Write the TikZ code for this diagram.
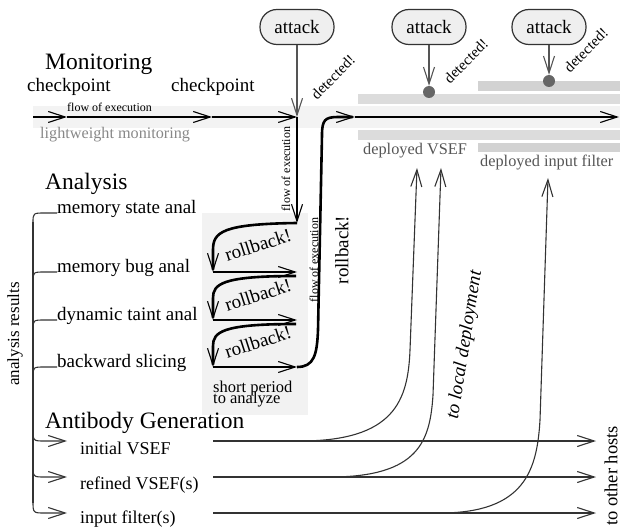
\documentclass[tikz,border=0pt]{standalone}
\usepackage{fontspec}
\setmainfont{Liberation Serif}
\usetikzlibrary{arrows.meta}
\definecolor{bandlight}{HTML}{F3F3F3}
\definecolor{bandA}{HTML}{DCDCDC}
\definecolor{bandB}{HTML}{D2D2D2}
\definecolor{boxbg}{HTML}{F2F2F2}
\definecolor{pillbg}{HTML}{EFEFEF}
\definecolor{dk}{HTML}{333333}
\definecolor{gr}{HTML}{555555}
\definecolor{lg}{HTML}{888888}
\definecolor{dotc}{HTML}{666666}
\newcommand\fsHead{\fontsize{23.5}{26}\selectfont}
\newcommand\fsMain{\fontsize{19}{22}\selectfont}
\newcommand\fsOut{\fontsize{18}{21}\selectfont}
\newcommand\fsDep{\fontsize{16.3}{19}\selectfont}
\newcommand\fsSmall{\fontsize{12}{14}\selectfont}
\newcommand\fsDet{\fontsize{15}{17}\selectfont}
\begin{document}
\begin{tikzpicture}[x=1pt,y=-1pt,
  tip/.style={-{Straight Barb[length=17pt,width=11pt,line width=1.1pt]}},
  flow/.style={line width=2.6pt,tip},
  thinline/.style={draw=dk,line width=1.1pt},
  thinarrow/.style={thinline,tip},
  attackarrow/.style={draw=gr,line width=1.5pt,tip},
  pill/.style={draw=dk,line width=1.2pt,fill=pillbg,rounded corners=17pt,minimum width=74pt,minimum height=35pt,inner sep=0pt,font=\fsMain},
  dot/.style={circle,fill=dotc,inner sep=0pt,minimum size=12pt},
  txt/.style={inner sep=0pt,font=\fsMain},
  head/.style={inner sep=0pt,font=\fsHead},
  small/.style={inner sep=0pt,font=\fsSmall},
  det/.style={inner sep=0pt,font=\fsDet,rotate=45},
]
\useasboundingbox (0,0) rectangle (620,529);
% background bands
\fill[bandlight] (33,106) rectangle (620,128);
\fill[bandA] (358,94) rectangle (620,104);
\fill[bandB] (478,81) rectangle (620,91);
\fill[bandA] (358,130) rectangle (620,140);
\fill[bandB] (478,143) rectangle (620,152);
\fill[boxbg] (202,213) rectangle (308,415);

% attacks
\node[pill] (att1) at (297,27) {attack};
\node[pill] (att2) at (429,27) {attack};
\node[pill] (att3) at (549,27) {attack};
\node[dot] (dot2) at (429,92) {};
\node[dot] (dot3) at (549,81) {};

% flow coordinates
\coordinate (f0) at (33,117);
\coordinate (cp1) at (67,117);
\coordinate (cp2) at (212,117);
\coordinate (j) at (297,117);
\coordinate (r0) at (297,223);
\coordinate (l1) at (213,272); \coordinate (h1) at (297,272);
\coordinate (s2) at (296,276); \coordinate (l2) at (213,320); \coordinate (h2) at (297,320);
\coordinate (s3) at (296,324); \coordinate (l3) at (213,367); \coordinate (h3) at (297,367);
\coordinate (re) at (355,117); \coordinate (fend) at (619,117);

\draw[attackarrow] (att1) -- (j);
\draw[attackarrow] (att2) -- (dot2);
\draw[attackarrow] (att3) -- (dot3);

\node[det] at (333,77) {detected!};
\node[det] at (466,61) {detected!};
\node[det] at (586,50) {detected!};

\draw[flow] (f0) -- (cp1);
\draw[flow] (cp1) -- (cp2);
\draw[flow] (cp2) -- (j);
\draw[flow] (j) -- (r0);
\draw[flow] (r0) .. controls (222,224) and (213,232) .. (213,250) -- (l1);
\draw[flow] (l1) -- (h1);
\draw[flow] (s2) .. controls (222,276) and (213,284) .. (213,298) -- (l2);
\draw[flow] (l2) -- (h2);
\draw[flow] (s3) .. controls (222,324) and (213,332) .. (213,346) -- (l3);
\draw[flow] (l3) -- (h3);
\draw[flow] (h3) .. controls (314,367) and (317,355) .. (318,330) -- (322,135) .. controls (322,120) and (325,117) .. (338,117) -- (re);
\draw[flow] (re) -- (fend);

% monitoring texts
\node[head,anchor=base west] (mon) at (45,70) {Monitoring};
\node[txt,anchor=base west] (ck1) at (27,92) {checkpoint};
\node[txt,anchor=base west] (ck2) at (171,92) {checkpoint};
\node[small,anchor=base west] (foe1) at (67,112) {flow of execution};
\node[inner sep=0pt,font=\fontsize{16.2}{18}\selectfont,text=lg,anchor=base west] (lw) at (40,139) {lightweight monitoring};
\node[small,rotate=90] (foe2) at (286,169) {flow of execution};
\node[small,rotate=90] (foe3) at (314,260) {flow of execution};
\node[txt,rotate=18] (rb1) at (258,245) {rollback!};
\node[txt,rotate=18] (rb2) at (258,295) {rollback!};
\node[txt,rotate=18] (rb3) at (258,342) {rollback!};
\node[txt,rotate=90] (rbig) at (342,250) {rollback!};
\node[inner sep=0pt,font=\fontsize{16.5}{11}\selectfont,anchor=base west] (sp1) at (213,392) {short period};
\node[inner sep=0pt,font=\fontsize{16.5}{11}\selectfont,anchor=base west] (sp2) at (213,403) {to analyze};

\node[inner sep=0pt,font=\fsDep,text=gr,anchor=base west] (dv) at (363,155) {deployed VSEF};
\node[inner sep=0pt,font=\fsDep,text=gr,anchor=base west] (di) at (480,167) {deployed input filter};

% analysis
\node[head,anchor=base west] (ana) at (45,190) {Analysis};
\node[txt,anchor=base west] (a1) at (57,213) {memory state anal};
\node[txt,anchor=base west] (a2) at (57,272) {memory bug anal};
\node[txt,anchor=base west] (a3) at (57,320) {dynamic taint anal};
\node[txt,anchor=base west] (a4) at (57,367) {backward slicing};
\node[inner sep=0pt,font=\fontsize{17}{19}\selectfont,rotate=90] (ar) at (15,334) {analysis results};

% bracket
\draw[thinline] (33,222) -- (33,503);
\foreach \n in {a1,a2,a3,a4}{
  \draw[thinline] (\n.base west) -- ++(-12,0) .. controls +(-12,0) .. +(-12,10);
}

% antibody generation
\node[head,anchor=base west] (ab) at (45,428) {Antibody Generation};
\node[txt,font=\fsOut,anchor=base west] (o1) at (80,454) {initial VSEF};
\node[txt,font=\fsOut,anchor=base west] (o2) at (80,489) {refined VSEF(s)};
\node[txt,font=\fsOut,anchor=base west] (o3) at (80,523) {input filter(s)};

\coordinate (b1) at (33,429); \coordinate (e1) at (67,441);
\coordinate (b2) at (33,465); \coordinate (e2) at (67,477);
\coordinate (b3) at (33,501); \coordinate (e3) at (67,513);
\draw[thinarrow] (b1) .. controls (33,441) .. (45,441) -- (e1);
\draw[thinarrow] (b2) .. controls (33,477) .. (45,477) -- (e2);
\draw[thinarrow] (b3) .. controls (33,513) .. (45,513) -- (e3);

\coordinate (s1) at (213,441); \coordinate (t1) at (596,441);
\coordinate (sb) at (213,477); \coordinate (t2) at (596,477);
\coordinate (sc) at (213,513); \coordinate (t3) at (596,513);
\draw[thinarrow] (s1) -- (t1);
\draw[thinarrow] (sb) -- (t2);
\draw[thinarrow] (sc) -- (t3);

\coordinate (u1) at (417,168);
\coordinate (u2) at (441,168);
\coordinate (u3) at (548,178);
\draw[thinarrow] (300,441) .. controls (395,441) and (408,400) .. (410,350) -- (u1);
\draw[thinarrow] (330,477) .. controls (420,477) and (430,440) .. (433,395) -- (u2);
\draw[thinarrow] (440,513) .. controls (525,513) and (537,470) .. (540,420) -- (u3);

\node[inner sep=0pt,font=\fsMain\itshape,rotate=81] (tl) at (465,345) {to local deployment};
\node[inner sep=0pt,font=\fontsize{18.5}{20}\selectfont,rotate=90] (toh) at (611,476) {to other hosts};
\end{tikzpicture}
\end{document}
